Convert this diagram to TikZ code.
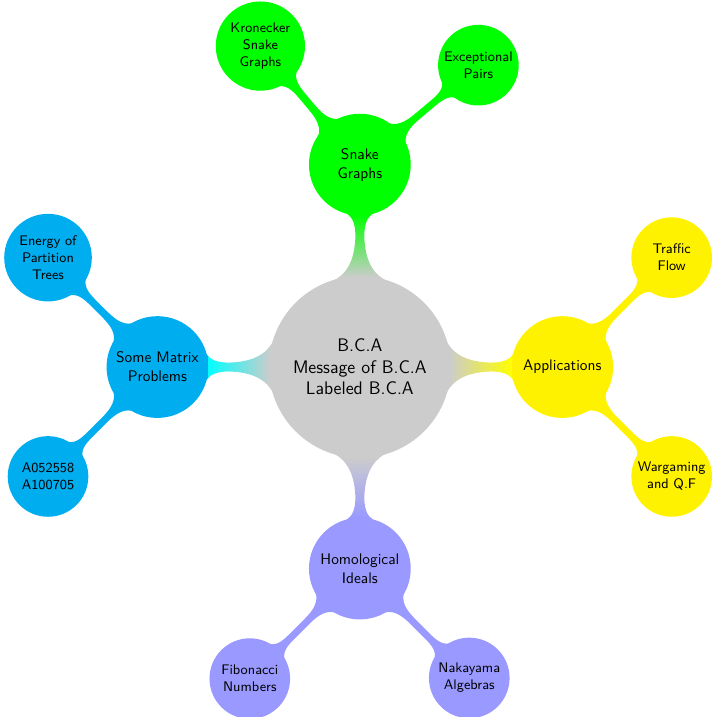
\documentclass[tikz,border=0pt]{standalone}
\usepackage{fontspec}
\usetikzlibrary{mindmap}
\tikzset{
	rootconcept/.style={concept, concept color=black!20, minimum size=4cm,
		text width=3.1cm, font=\sffamily\fontsize{11.5}{13.6}\selectfont},
	topicconcept/.style={concept, minimum size=2.22cm, text width=1.9cm,
		font=\sffamily\fontsize{9.7}{12}\selectfont},
	leafconcept/.style={concept, minimum size=1.75cm, text width=1.53cm,
		inner sep=1pt, font=\sffamily\fontsize{8.8}{10.7}\selectfont},
	topicbar/.style={line width=2.1mm},
	leafbar/.style={line width=1.4mm}
}
\begin{document}
\begin{tikzpicture}[mindmap]
	\useasboundingbox (-8,-7.78) rectangle (7.82,8.16);
	% centre
	\node[rootconcept] (bca) at (0,0)
		{B.C.A\\ Message of B.C.A\\ Labeled B.C.A};
	% first ring
	\node[topicconcept, concept color=green] (snake) at (90:4.5)
		{Snake\\ Graphs};
	\node[topicconcept, concept color=yellow] (appl) at (0:4.5)
		{Applications};
	\node[topicconcept, concept color=blue!40] (homol) at (270:4.48)
		{Homological\\ Ideals};
	\node[topicconcept, concept color=cyan] (matrix) at (180:4.5)
		{Some Matrix\\ Problems};
	% second ring
	\node[leafconcept, concept color=green] (kron) at ([shift={(130:3.44)}]snake)
		{Kronecker\\ Snake\\ Graphs};
	\node[leafconcept, concept color=green] (pairs) at ([shift={(40:3.44)}]snake)
		{Exceptional\\ Pairs};
	\node[leafconcept, concept color=yellow] (traffic) at ([shift={(45:3.44)}]appl)
		{Traffic\\ Flow};
	\node[leafconcept, concept color=yellow] (wargame) at ([shift={(-45:3.44)}]appl)
		{Wargaming\\ and Q.F};
	\node[leafconcept, concept color=blue!40] (fibo) at ([shift={(225:3.46)}]homol)
		{Fibonacci\\ Numbers};
	\node[leafconcept, concept color=blue!40] (naka) at ([shift={(315:3.44)}]homol)
		{Nakayama\\ Algebras};
	\node[leafconcept, concept color=cyan] (energy) at ([shift={(135:3.44)}]matrix)
		{Energy of\\ Partition\\ Trees};
	\node[leafconcept, concept color=cyan] (oeis) at ([shift={(225:3.44)}]matrix)
		{A052558\\ A100705};
	% bars
	\path[topicbar] (bca) to[circle connection bar switch color=from (black!20) to (green)] (snake);
	\path[topicbar] (bca) to[circle connection bar switch color=from (black!20) to (yellow)] (appl);
	\path[topicbar] (bca) to[circle connection bar switch color=from (black!20) to (blue!40)] (homol);
	\path[topicbar] (bca) to[circle connection bar switch color=from (black!20) to (cyan)] (matrix);
	\path[leafbar, concept color=green] (snake) to[circle connection bar] (kron);
	\path[leafbar, concept color=green] (snake) to[circle connection bar] (pairs);
	\path[leafbar, concept color=yellow] (appl) to[circle connection bar] (traffic);
	\path[leafbar, concept color=yellow] (appl) to[circle connection bar] (wargame);
	\path[leafbar, concept color=blue!40] (homol) to[circle connection bar] (fibo);
	\path[leafbar, concept color=blue!40] (homol) to[circle connection bar] (naka);
	\path[leafbar, concept color=cyan] (matrix) to[circle connection bar] (energy);
	\path[leafbar, concept color=cyan] (matrix) to[circle connection bar] (oeis);
\end{tikzpicture}
\end{document}
